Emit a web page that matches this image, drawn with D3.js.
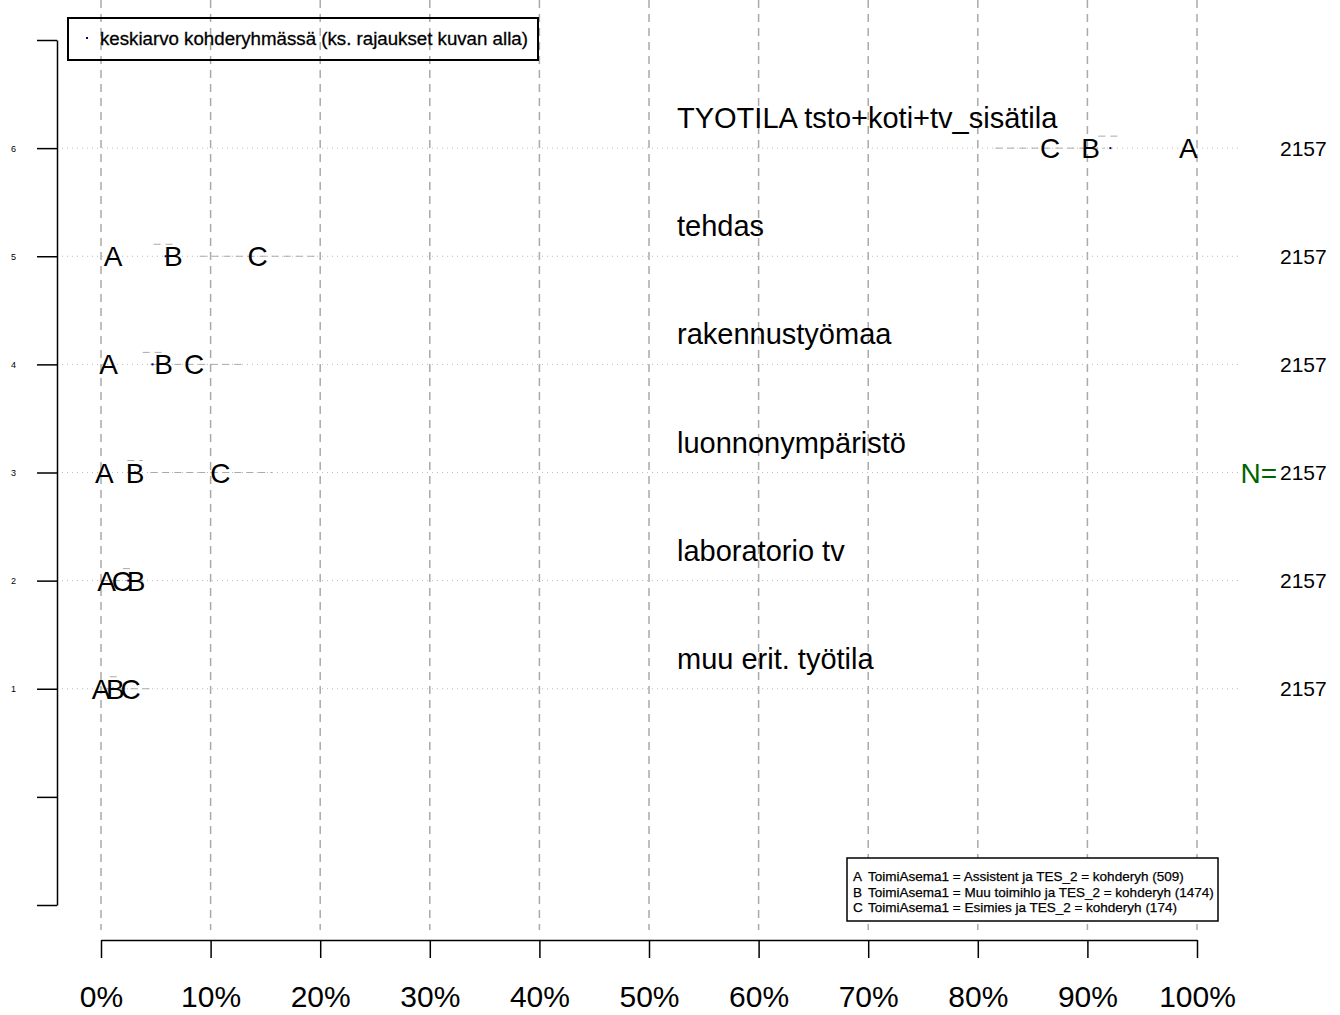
<!DOCTYPE html>
<html>
<head>
<meta charset="utf-8">
<script src="https://cdn.jsdelivr.net/npm/d3@7"></script>
<style>
body { margin: 0; background: #fff; }
svg { font-family: "Liberation Sans", Arial, Helvetica, sans-serif; }
</style>
</head>
<body>
<div id="chart"></div>
<script>
// rows from bottom (1) to top (6)
var rowLabels = ["muu erit. työtila", "laboratorio tv", "luonnonympäristö",
                 "rakennustyömaa", "tehdas", "TYOTILA tsto+koti+tv_sisätila"];
var rowN = [2157, 2157, 2157, 2157, 2157, 2157];

// group means in percent
var meanA = [0.0, 0.5, 0.3, 0.7, 1.1, 99.2];
var meanB = [1.3, 3.2, 3.1, 5.7, 6.6, 90.3];
var meanC = [2.7, 1.9, 10.9, 8.5, 14.3, 86.6];

// confidence interval of group C (drawn on the row line)
var ciCLow  = [0.5, 0.0, 4.5, 4.5, 9.0, 81.6];
var ciCHigh = [4.9, 3.8, 15.6, 13.0, 19.8, 91.6];

// mean of whole target group and its interval
var overallMean = [1.1, 2.5, 3.1, 4.7, 5.9, 92.1];
var overallLow  = [0.8, 2.0, 2.4, 3.8, 4.8, 91.0];
var overallHigh = [1.5, 3.0, 3.8, 5.6, 6.9, 93.2];

var xTicks = [0, 10, 20, 30, 40, 50, 60, 70, 80, 90, 100];
var yTicks = [-1, 0, 1, 2, 3, 4, 5, 6, 7];

var groupKeys = ["A", "B", "C"];
var groupText = ["ToimiAsema1 = Assistent ja TES_2 = kohderyh (509)",
                 "ToimiAsema1 = Muu toimihlo ja TES_2 = kohderyh (1474)",
                 "ToimiAsema1 = Esimies ja TES_2 = kohderyh (174)"];

var width = 1340, height = 1015;
var svg = d3.select("#chart").append("svg")
    .attr("width", width)
    .attr("height", height);

var x = d3.scaleLinear().domain([0, 100]).range([101, 1197]);
var y = d3.scaleLinear().domain([-1, 7]).range([905, 40]);

// vertical grid
svg.selectAll(".vgrid")
    .data(xTicks)
    .enter().append("line")
    .attr("x1", function (d) { return x(d); })
    .attr("x2", function (d) { return x(d); })
    .attr("y1", 0)
    .attr("y2", 930)
    .attr("stroke", "#aaa")
    .attr("stroke-width", 1.5)
    .attr("stroke-dasharray", "8,6");

var rows = d3.range(rowLabels.length);

// row dotted lines
svg.selectAll(".hgrid")
    .data(rows)
    .enter().append("line")
    .attr("x1", 57)
    .attr("x2", 1240)
    .attr("y1", function (i) { return y(i + 1); })
    .attr("y2", function (i) { return y(i + 1); })
    .attr("stroke", "#bbb")
    .attr("stroke-dasharray", "1,4");

// C intervals
svg.selectAll(".ciC")
    .data(rows)
    .enter().append("line")
    .attr("x1", function (i) { return x(ciCLow[i]); })
    .attr("x2", function (i) { return x(ciCHigh[i]); })
    .attr("y1", function (i) { return y(i + 1); })
    .attr("y2", function (i) { return y(i + 1); })
    .attr("stroke", "#aaa")
    .attr("stroke-dasharray", "7,5");

// overall intervals, a bit above the row
svg.selectAll(".ciAll")
    .data(rows)
    .enter().append("line")
    .attr("x1", function (i) { return x(overallLow[i]); })
    .attr("x2", function (i) { return x(overallHigh[i]); })
    .attr("y1", function (i) { return y(i + 1) - 12; })
    .attr("y2", function (i) { return y(i + 1) - 12; })
    .attr("stroke", "#aaa")
    .attr("stroke-dasharray", "7,5");

svg.selectAll(".dot")
    .data(rows)
    .enter().append("rect")
    .attr("x", function (i) { return x(overallMean[i]) - 1; })
    .attr("y", function (i) { return y(i + 1) - 1; })
    .attr("width", 2)
    .attr("height", 2)
    .attr("fill", "#00008b");

// letters
var means = [meanA, meanB, meanC];
groupKeys.forEach(function (k, g) {
    svg.selectAll(".let" + k)
        .data(rows)
        .enter().append("text")
        .attr("x", function (i) { return x(means[g][i]); })
        .attr("y", function (i) { return y(i + 1) + 10; })
        .attr("text-anchor", "middle")
        .attr("font-size", 28)
        .text(k);
});

// row labels
svg.selectAll(".rowlab")
    .data(rows)
    .enter().append("text")
    .attr("x", 677)
    .attr("y", function (i) { return y(i + 1) - 20; })
    .attr("font-size", 29)
    .text(function (i) { return rowLabels[i]; });

// N counts
svg.selectAll(".nlab")
    .data(rows)
    .enter().append("text")
    .attr("x", 1280)
    .attr("y", function (i) { return y(i + 1) + 7.5; })
    .attr("font-size", 21)
    .text(function (i) { return rowN[i]; });

svg.append("text")
    .attr("x", 1277)
    .attr("y", y(3) + 10)
    .attr("text-anchor", "end")
    .attr("font-size", 28)
    .attr("fill", "#006400")
    .text("N=");

// axes
var xAxis = svg.append("g")
    .attr("transform", "translate(0,940)")
    .call(d3.axisBottom(x).tickValues(xTicks)
        .tickFormat(function (d) { return d + "%"; })
        .tickSize(18).tickSizeOuter(0).tickPadding(28));
xAxis.selectAll("text").attr("font-size", 30).attr("font-family", null);
xAxis.selectAll("line, path").attr("stroke", "#000").attr("stroke-width", 1.5);

var yAxis = svg.append("g")
    .attr("transform", "translate(57,0)")
    .call(d3.axisLeft(y).tickValues(yTicks)
        .tickFormat(function (d) { return (d >= 1 && d <= 6) ? d : ""; })
        .tickSize(20).tickSizeOuter(0).tickPadding(21));
yAxis.selectAll("text").attr("font-size", 9).attr("font-family", null);
yAxis.selectAll("line, path").attr("stroke", "#000").attr("stroke-width", 1.5);

// top legend
svg.append("rect")
    .attr("x", 68).attr("y", 18)
    .attr("width", 470).attr("height", 42)
    .attr("fill", "none")
    .attr("stroke", "#000")
    .attr("stroke-width", 2);
svg.append("rect")
    .attr("x", 86).attr("y", 37)
    .attr("width", 2).attr("height", 2)
    .attr("fill", "#00008b");
svg.append("text")
    .attr("x", 100).attr("y", 45)
    .attr("font-size", 18.7)
    .attr("stroke", "#000")
    .attr("stroke-width", 0.3)
    .text("keskiarvo kohderyhmässä (ks. rajaukset kuvan alla)");

// bottom legend
svg.append("rect")
    .attr("x", 847).attr("y", 858)
    .attr("width", 371).attr("height", 63)
    .attr("fill", "#fff")
    .attr("stroke", "#000")
    .attr("stroke-width", 1.5);
groupKeys.forEach(function (k, i) {
    svg.append("text")
        .attr("x", 853).attr("y", 881 + i * 15.5)
        .attr("font-size", 13.5)
        .attr("stroke", "#000")
        .attr("stroke-width", 0.25)
        .text(k);
    svg.append("text")
        .attr("x", 868).attr("y", 881 + i * 15.5)
        .attr("font-size", 13.5)
        .attr("stroke", "#000")
        .attr("stroke-width", 0.25)
        .text(groupText[i]);
});
</script>
</body>
</html>
